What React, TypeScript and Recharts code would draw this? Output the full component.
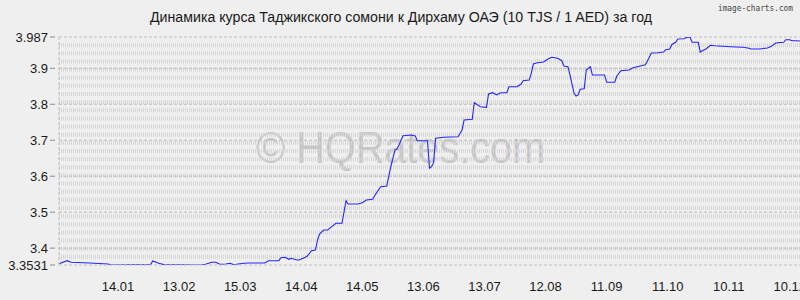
import React from "react";
import { LineChart, Line, XAxis, YAxis, ReferenceLine, Customized } from "recharts";

const TITLE = "Динамика курса Таджикского сомони к Дирхаму ОАЭ (10 TJS / 1 AED) за год";

// day offset from the first quote (16.12 of the previous year)
const days = [
  0, 4, 6, 15, 24, 26, 36, 45, 46, 49, 52, 59, 67, 70, 72, 75, 77, 79, 82, 84,
  86, 88, 91, 93, 101, 103, 108, 109, 111, 113, 114, 117, 118, 121, 122, 124, 126, 127, 128, 130,
  132, 134, 136, 139, 141, 142, 147, 149, 151, 154, 156, 158, 161, 163, 165, 166, 167, 169, 173, 175,
  176, 181, 182, 183, 184, 185, 189, 196, 198, 199, 203, 204, 207, 210, 211, 213, 215, 217, 220, 221,
  225, 227, 228, 231, 232, 233, 235, 238, 240, 242, 245, 247, 248, 250, 251, 253, 254, 255, 256, 258,
  259, 261, 262, 268, 269, 273, 274, 276, 280, 282, 286, 288, 289, 291, 294, 297, 298, 300, 301, 303,
  304, 307, 309, 310, 311, 314, 315, 316, 318, 320, 322, 330, 336, 339, 340, 344, 348, 350, 352, 356,
  357, 359, 360, 362, 364,
];

// 10 TJS in AED
const rates = [
  3.3567, 3.3651, 3.3606, 3.3587, 3.3559, 3.3531, 3.3535, 3.3535, 3.3643, 3.3578, 3.3534, 3.3536, 3.3531, 3.3531, 3.3551, 3.3606, 3.3606, 3.3551, 3.3559, 3.3578,
  3.354, 3.3559, 3.3578, 3.3587, 3.3587, 3.3651, 3.3651, 3.3734, 3.3745, 3.369, 3.3718, 3.367, 3.367, 3.3745, 3.3782, 3.3929, 3.3948, 3.4226, 3.4393, 3.4504,
  3.4504, 3.4596, 3.4691, 3.4691, 3.5319, 3.5227, 3.5227, 3.5263, 3.5338, 3.5358, 3.5541, 3.5708, 3.5728, 3.6264, 3.6728, 3.6756, 3.6867, 3.7126, 3.7146, 3.7118,
  3.6987, 3.6987, 3.622, 3.6264, 3.6375, 3.7054, 3.7082, 3.7098, 3.7285, 3.7563, 3.7582, 3.8044, 3.7932, 3.7916, 3.8285, 3.8321, 3.8258, 3.8321, 3.8321, 3.8488,
  3.8488, 3.8563, 3.8655, 3.8675, 3.8861, 3.9119, 3.9156, 3.9175, 3.925, 3.9306, 3.9278, 3.9211, 3.9064, 3.9044, 3.8814, 3.8305, 3.823, 3.8258, 3.8416, 3.8433,
  3.8953, 3.9044, 3.8814, 3.8814, 3.8611, 3.8611, 3.8786, 3.8933, 3.8953, 3.9017, 3.9072, 3.91, 3.9194, 3.9425, 3.9434, 3.9453, 3.9517, 3.9536, 3.9656, 3.9731,
  3.9814, 3.9823, 3.987, 3.9862, 3.9723, 3.9723, 3.9453, 3.9489, 3.9545, 3.9639, 3.9628, 3.96, 3.9584, 3.9556, 3.9536, 3.9536, 3.9564, 3.9611, 3.9703, 3.9723,
  3.9795, 3.9795, 3.9767, 3.9767, 3.9759,
];

const tickDays = [29, 59, 89, 119, 149, 179, 209, 239, 269, 299, 329, 359];
const tickLabels = ["14.01", "13.02", "15.03", "14.04", "14.05", "13.06", "13.07", "12.08", "11.09", "11.10", "10.11", "10.12"];

const yTicks = [3.3531, 3.4, 3.5, 3.6, 3.7, 3.8, 3.9, 3.987];
const Y_MIN = 3.3531;
const Y_MAX = 3.987;

const data = days.map((d, i) => ({ day: d, rate: rates[i] }));

// the hatched background bands: 28 equal steps over the value range
const HATCH_STEPS = 28;
const hatchRows: number[] = [];
for (let i = 1; i < HATCH_STEPS; i++) hatchRows.push(Y_MIN + (i * (Y_MAX - Y_MIN)) / HATCH_STEPS);

const BG = "#efefef";
const LINE = "#2424ff";
const HATCH = "#d6d6d6";
const MAJOR = "#bdbdbd";
const TEXT = "#1a1a1a";
const FONT = "'Liberation Sans', Arial, sans-serif";

function YTick(props: any) {
  const { x, y, payload } = props;
  return (
    <g>
      <line x1={x - 9} x2={x - 4} y1={y} y2={y} stroke="#8a8a8a" />
      <text x={x - 11} y={y} dy="0.35em" textAnchor="end" fontSize={13} fill={TEXT} fontFamily={FONT}>
        {payload.value}
      </text>
    </g>
  );
}

const Watermark = () => (
  <text x={256} y={163} fontSize={45} fill="#c6c6c6" fontFamily={FONT} textLength={289} lengthAdjust="spacingAndGlyphs">
    © HQRates.com
  </text>
);

export default function App() {
  return (
    <div style={{ position: "relative", width: 800, height: 300, background: BG, overflow: "hidden" }}>
      <style>{`body{margin:0;background:${BG}}`}</style>
      <LineChart width={800} height={300} data={data} margin={{ top: 37, right: 0, bottom: 0, left: 0 }}>
        <Customized component={Watermark} />
        {hatchRows.map((v) => (
          <ReferenceLine key={"h" + v} y={v} stroke={HATCH} strokeWidth={4} strokeDasharray="1 1" />
        ))}
        {yTicks.slice(1).map((v) => (
          <ReferenceLine key={"m" + v} y={v} stroke={MAJOR} strokeDasharray="3 2" />
        ))}
        <XAxis
          type="number"
          dataKey="day"
          domain={[0, 364]}
          ticks={tickDays}
          tickFormatter={(v: number) => tickLabels[tickDays.indexOf(v)] ?? ""}
          interval={0}
          tickLine={false}
          tickSize={0}
          tickMargin={17}
          height={35}
          axisLine={{ stroke: MAJOR, strokeDasharray: "3 2" }}
          tick={{ fontSize: 13, fill: TEXT, fontFamily: FONT }}
        />
        <YAxis
          domain={[Y_MIN, Y_MAX]}
          ticks={yTicks}
          interval={0}
          allowDataOverflow
          width={59}
          tickLine={false}
          tickSize={0}
          tickMargin={0}
          axisLine={{ stroke: MAJOR, strokeDasharray: "3 2" }}
          tick={<YTick />}
        />
        <Line type="linear" dataKey="rate" stroke={LINE} strokeWidth={1.1} dot={false} isAnimationActive={false} />
      </LineChart>
      <svg width={800} height={30} style={{ position: "absolute", left: 0, top: 0, pointerEvents: "none" }}>
        <text x={401} y={22} textAnchor="middle" fontSize={14} fill={TEXT} fontFamily={FONT} textLength={502} lengthAdjust="spacingAndGlyphs">
          {TITLE}
        </text>
        <text x={718} y={11} fontSize={9} fill="#444" fontFamily="'DejaVu Sans Mono', monospace" textLength={75} lengthAdjust="spacingAndGlyphs">
          image-charts.com
        </text>
      </svg>
    </div>
  );
}
